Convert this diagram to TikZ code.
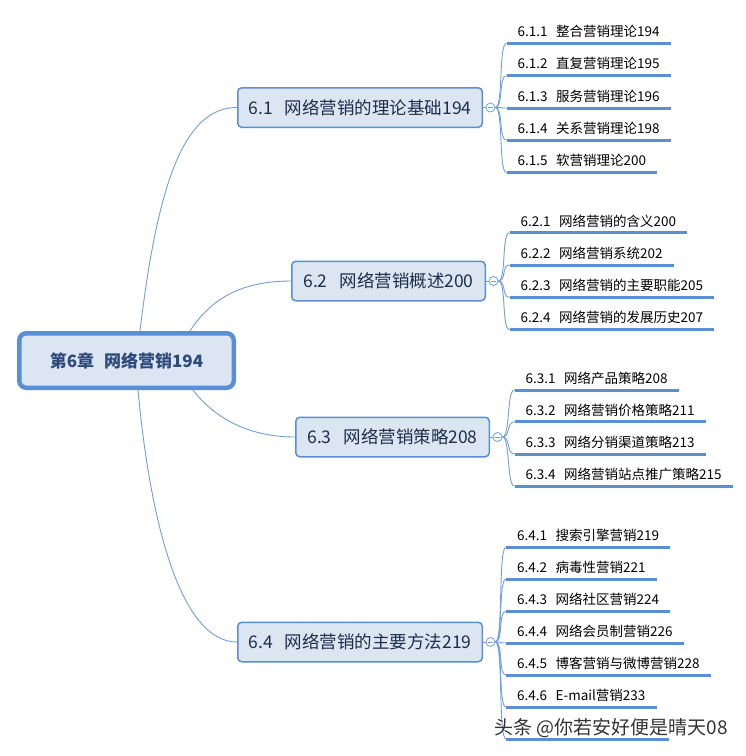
\documentclass[tikz,border=0pt]{standalone}
\usepackage{fontspec}
\setmainfont{Noto Sans CJK SC}
\usetikzlibrary{calc}
\definecolor{boxfill}{HTML}{DCE6F2}
\definecolor{boxline}{HTML}{5A8ED6}
\definecolor{linkline}{HTML}{6F9FDC}
\definecolor{topictext}{HTML}{1F2D4A}
\definecolor{roottext}{HTML}{2E4A7A}
\newcommand{\gapS}{\hspace{8.5pt}}
\newcommand{\gapT}{\hspace{12pt}}
\begin{document}
\begin{tikzpicture}[x=1pt, y=-1pt,
    root/.style={draw=boxline, line width=4.5pt, fill=boxfill, rounded corners=7pt, minimum width=214.5pt, minimum height=54.5pt, font=\fontsize{17}{20}\selectfont\bfseries, text=roottext},
    topic/.style={draw=boxline, line width=1.5pt, fill=boxfill, rounded corners=4pt, minimum height=39.5pt, font=\fontsize{17.5}{20}\selectfont, text=topictext},
    sub/.style={anchor=south west, inner xsep=11pt, inner ysep=3.5pt, text height=10pt, text depth=3pt, font=\fontsize{13.5}{15}\selectfont},
    fold/.style={circle, draw=linkline, fill=white, line width=0.8pt, minimum size=9pt, inner sep=0pt},
    link/.style={draw=linkline, line width=0.9pt},
    uline/.style={draw=boxline, line width=3pt}
]
\useasboundingbox (0,0) rectangle (746,756);

% main topics
\node[root] (root) at (126.5,360.5) {第6章\hspace{10pt}网络营销194};
\node[topic, minimum width=244.5pt] (t1) at (360,107.5) {6.1\gapT 网络营销的理论基础194};
\node[topic, minimum width=193.5pt] (t2) at (388.5,281) {6.2\gapT 网络营销概述200};
\node[topic, minimum width=193.5pt] (t3) at (392.5,437) {6.3\gapT 网络营销策略208};
\node[topic, minimum width=244.5pt] (t4) at (360,642) {6.4\gapT 网络营销的主要方法219};

\draw[link] ($(root.north)+(13.5,0)$) .. controls (158,180) and (185,107.5) .. (t1.west);
\draw[link] ($(root.north)+(63.5,0)$) .. controls (210,300) and (240,281) .. (t2.west);
\draw[link] ($(root.south)+(66.5,0)$) .. controls (212,415) and (245,437) .. (t3.west);
\draw[link] ($(root.south)+(11.5,0)$) .. controls (150,520) and (180,642) .. (t4.west);

% fold buttons
\foreach \t in {1,2,3,4} {
  \node[fold] (f\t) at ($(t\t.east)+(7.5,0)$) {};
  \draw[link] (t\t.east) -- (f\t.west);
  \draw[linkline, line width=0.8pt] ($(f\t.center)+(-2.4,0)$) -- ($(f\t.center)+(2.4,0)$);
}

% 6.1
\node[sub] (s11) at (506.5,43.3) {6.1.1\gapS 整合营销理论194};
\node[sub] (s12) at (506.5,75.6) {6.1.2\gapS 直复营销理论195};
\node[sub] (s13) at (506.5,108) {6.1.3\gapS 服务营销理论196};
\node[sub] (s14) at (506.5,140.3) {6.1.4\gapS 关系营销理论198};
\node[sub] (s15) at (506.5,172.6) {6.1.5\gapS 软营销理论200};

% 6.2
\node[sub] (s21) at (509.5,232.7) {6.2.1\gapS 网络营销的含义200};
\node[sub] (s22) at (509.5,265) {6.2.2\gapS 网络营销系统202};
\node[sub] (s23) at (509.5,297.3) {6.2.3\gapS 网络营销的主要职能205};
\node[sub] (s24) at (509.5,329.6) {6.2.4\gapS 网络营销的发展历史207};

% 6.3
\node[sub] (s31) at (514.5,390) {6.3.1\gapS 网络产品策略208};
\node[sub] (s32) at (514.5,421.7) {6.3.2\gapS 网络营销价格策略211};
\node[sub] (s33) at (514.5,454) {6.3.3\gapS 网络分销渠道策略213};
\node[sub] (s34) at (514.5,486) {6.3.4\gapS 网络营销站点推广策略215};

% 6.4
\node[sub] (s41) at (506,547.3) {6.4.1\gapS 搜索引擎营销219};
\node[sub] (s42) at (506,579.3) {6.4.2\gapS 病毒性营销221};
\node[sub] (s43) at (506,611.3) {6.4.3\gapS 网络社区营销224};
\node[sub] (s44) at (506,643) {6.4.4\gapS 网络会员制营销226};
\node[sub] (s45) at (506,675) {6.4.5\gapS 博客营销与微博营销228};
\node[sub] (s46) at (506,707) {6.4.6\gapS E-mail营销233};
\node[sub, minimum width=163pt] (s47) at (506,739) {};

\foreach \s in {s11,s12,s13,s14,s15}
  \draw[link] (f1.east) .. controls +(8,0) and +(-8,0) .. (\s.south west);
\foreach \s in {s21,s22,s23,s24}
  \draw[link] (f2.east) .. controls +(8,0) and +(-8,0) .. (\s.south west);
\foreach \s in {s31,s32,s33,s34}
  \draw[link] (f3.east) .. controls +(8,0) and +(-8,0) .. (\s.south west);
\foreach \s in {s41,s42,s43,s44,s45,s46,s47}
  \draw[link] (f4.east) .. controls +(8,0) and +(-8,0) .. (\s.south west);

\foreach \s in {s11,s12,s13,s14,s15,s21,s22,s23,s24,s31,s32,s33,s34,s41,s42,s43,s44,s45,s46,s47}
  \draw[uline] (\s.south west) -- (\s.south east);

% watermark
\node[font=\fontsize{19}{22}\selectfont, text=black!80] (mark) at (611,728) {头条 @你若安好便是晴天08};

\end{tikzpicture}
\end{document}
